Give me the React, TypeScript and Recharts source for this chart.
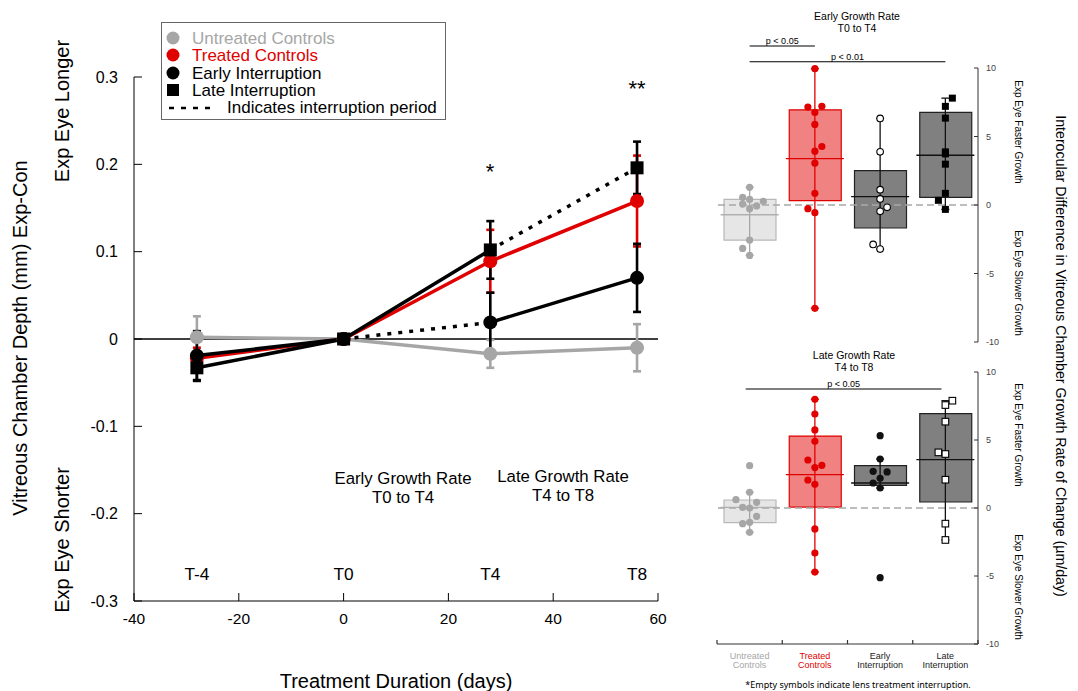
import React from "react";
import {
  ComposedChart,
  Line,
  Bar,
  Cell,
  Scatter,
  XAxis,
  YAxis,
  ReferenceLine,
  ErrorBar,
} from "recharts";

// ---- left panel: vitreous chamber depth (Exp - Con), mean ± SE ----
const days = [-28, 0, 28, 56];
const timeLabels = ["T-4", "T0", "T4", "T8"];
const untreatedMean = [0.002, 0, -0.017, -0.01];
const untreatedErr = [0.024, 0, 0.016, 0.027];
const treatedMean = [-0.022, 0, 0.089, 0.158];
const treatedErr = [0.012, 0, 0.036, 0.052];
const earlyMean = [-0.019, 0, 0.019, 0.07];
const earlyErr = [0.028, 0, 0.034, 0.039];
const lateMean = [-0.033, 0, 0.102, 0.196];
const lateErr = [0.015, 0, 0.033, 0.03];
const dayTicks = [-40, -20, 0, 20, 40, 60];
const depthTicks = [-0.3, -0.2, -0.1, 0, 0.1, 0.2, 0.3];

// ---- right panels: growth rate box plots (µm/day) ----
const groupNames = [
  ["Untreated", "Controls"],
  ["Treated", "Controls"],
  ["Early", "Interruption"],
  ["Late", "Interruption"],
];
const rateTicks = [-10, -5, 0, 5, 10];
const catTicks = [0.5, 1, 1.5, 2, 2.5, 3, 3.5, 4, 4.5];

const earlyQ1 = [-2.56, 0.32, -1.68, 0.56];
const earlyQ3 = [0.41, 6.95, 2.51, 6.76];
const earlyMedian = [-0.71, 3.39, 0.61, 3.63];
const earlyLow = [-3.68, -7.54, -3.22, -0.32];
const earlyHigh = [1.29, 9.95, 6.32, 7.8];

const lateQ1 = [-1.08, 0.07, 1.67, 0.44];
const lateQ3 = [0.59, 5.29, 3.11, 6.94];
const lateMedian = [0.05, 2.45, 1.84, 3.55];
const lateLow = [-1.79, -4.71, 1.47, -2.35];
const lateHigh = [1.15, 7.99, 3.6, 7.89];

// individual eyes: [rate, jitter in category widths]
const earlyPoints = [
  [[1.29, 0], [0.56, -0.107], [0.41, 0], [0.27, 0.21], [0.07, -0.107], [-0.07, 0.107], [-0.27, 0], [-2.56, 0], [-3.17, -0.107], [-3.68, 0]],
  [[9.95, 0], [7.15, -0.107], [7.2, 0.107], [6.76, 0], [5.88, 0], [4.27, 0.107], [3.93, 0], [3.05, 0], [0.85, 0], [-0.27, -0.107], [-0.56, 0], [-7.54, 0]],
  [[6.32, 0], [3.88, 0], [1.12, 0], [0.44, 0], [-0.17, 0.107], [-0.46, 0], [-2.88, -0.107], [-3.22, 0]],
  [[7.8, 0.107], [7.2, 0], [6.34, 0], [3.88, 0], [3.73, 0], [2.98, 0], [0.85, 0], [0.34, -0.107], [-0.32, 0]],
];
const latePoints = [
  [[3.11, 0], [1.15, 0], [0.61, -0.21], [0.42, 0.107], [0.05, -0.107], [0, 0], [-0.61, 0.107], [-1.05, 0], [-1.15, -0.107], [-1.79, 0]],
  [[7.99, 0], [6.91, 0], [5.74, 0], [4.9, 0], [3.53, -0.107], [2.97, 0], [3.14, 0.107], [2.06, -0.107], [1.74, 0], [-1.54, 0], [-3.31, 0], [-4.71, 0]],
  [[5.32, 0], [3.6, 0], [2.7, -0.107], [2.65, 0.107], [2.18, 0], [1.84, -0.107], [1.47, 0], [-5.12, 0]],
  [[7.89, 0.107], [7.57, 0], [6.35, 0], [4.09, -0.107], [3.97, 0], [2.08, 0], [-1.15, 0], [-2.35, 0]],
];
const earlyMarkers = ["dot", "dot", "ring", "square"];
const lateMarkers = ["dot", "dot", "dot", "box"];

// significance bars: [from, to, height, label]
const earlySig = [
  [1, 2, 11.61, "p < 0.05"],
  [1, 4, 10.46, "p < 0.01"],
];
const lateSig = [[0.94, 3.94, 8.75, "p < 0.05"]];

const GRAY = "#a6a6a6";
const RED = "#e00000";
const BLACK = "#000";
const groupColors = ["#a6a6a6", "#e00000", "#111", "#111"];
const medianColors = ["#b0b0b0", "#e00000", "#111", "#111"];
const boxFills = ["#e6e6e6", "#f08282", "#808080", "#808080"];
const boxStrokes = ["#b8b8b8", "#e00000", "#222", "#222"];
const labelColors = ["#a6a6a6", "#e00000", "#222", "#222"];

const FONT = "'Liberation Sans', Arial, Helvetica, sans-serif";

const timeRows = days.map((d, i) => ({
  day: d,
  untreated: untreatedMean[i],
  untreatedErr: untreatedErr[i],
  treated: treatedMean[i],
  treatedErr: treatedErr[i],
  early: earlyMean[i],
  earlyErr: earlyErr[i],
  late: lateMean[i],
  lateErr: lateErr[i],
  // early interruption between T0 and T4, late between T4 and T8
  earlyBefore: i <= 1 ? earlyMean[i] : null,
  earlyGap: i === 1 || i === 2 ? earlyMean[i] : null,
  earlyAfter: i >= 2 ? earlyMean[i] : null,
  lateBefore: i <= 2 ? lateMean[i] : null,
  lateGap: i >= 2 ? lateMean[i] : null,
}));

function Txt({ x, y, size, color = "#000", rotate = 0, font = FONT, children }: any) {
  return (
    <div
      style={{
        position: "absolute",
        left: x,
        top: y,
        transform: `translate(-50%, -50%) rotate(${rotate}deg)`,
        fontSize: size,
        color,
        fontFamily: font,
        whiteSpace: "nowrap",
        lineHeight: 1.0,
        textAlign: "center",
      }}
    >
      {children}
    </div>
  );
}

const circleDot = (fill: string, r: number) => (p: any) =>
  p.cx == null ? <g key={p.index} /> : <circle key={p.index} cx={p.cx} cy={p.cy} r={r} fill={fill} />;

const squareDot = (p: any) =>
  p.cx == null ? <g key={p.index} /> : <rect key={p.index} x={p.cx - 6.5} y={p.cy - 6.5} width={13} height={13} fill={BLACK} />;

function DepthChart() {
  const err = { direction: "y" as const, width: 4, strokeWidth: 2.6 };
  return (
    <ComposedChart
      width={700}
      height={691}
      data={timeRows}
      margin={{ top: 77, right: 42, bottom: 60, left: 94 }}
    >
      <XAxis
        type="number"
        dataKey="day"
        domain={[-40, 60]}
        ticks={dayTicks}
        interval={0}
        height={30}
        tickSize={-8}
        tickMargin={20}
        stroke="#000"
        tick={{ fill: "#000", fontSize: 15.5, fontFamily: FONT }}
      />
      <YAxis
        type="number"
        domain={[-0.3, 0.3]}
        ticks={depthTicks}
        interval={0}
        width={40}
        tickSize={-8}
        tickMargin={24}
        stroke="#000"
        tick={{ fill: "#000", fontSize: 16, fontFamily: FONT }}
      />
      <ReferenceLine y={0} stroke="#000" strokeWidth={1.3} />

      <Line dataKey="untreated" stroke={GRAY} strokeWidth={3.5} dot={false} isAnimationActive={false} />
      <Line dataKey="treated" stroke={RED} strokeWidth={3.5} dot={false} isAnimationActive={false} />
      <Line dataKey="earlyBefore" stroke={BLACK} strokeWidth={3.5} dot={false} isAnimationActive={false} />
      <Line dataKey="earlyGap" stroke={BLACK} strokeWidth={3.5} strokeDasharray="4 7" dot={false} isAnimationActive={false} />
      <Line dataKey="earlyAfter" stroke={BLACK} strokeWidth={3.5} dot={false} isAnimationActive={false} />
      <Line dataKey="lateBefore" stroke={BLACK} strokeWidth={3.5} dot={false} isAnimationActive={false} />
      <Line dataKey="lateGap" stroke={BLACK} strokeWidth={3.5} strokeDasharray="4 7" dot={false} isAnimationActive={false} />

      <Line dataKey="untreated" stroke="none" dot={circleDot(GRAY, 7)} isAnimationActive={false}>
        <ErrorBar dataKey="untreatedErr" stroke={GRAY} {...err} />
      </Line>
      <Line dataKey="treated" stroke="none" dot={circleDot(RED, 7)} isAnimationActive={false}>
        <ErrorBar dataKey="treatedErr" stroke={RED} {...err} />
      </Line>
      <Line dataKey="early" stroke="none" dot={circleDot(BLACK, 7)} isAnimationActive={false}>
        <ErrorBar dataKey="earlyErr" stroke={BLACK} {...err} />
      </Line>
      <Line dataKey="late" stroke="none" dot={squareDot} isAnimationActive={false}>
        <ErrorBar dataKey="lateErr" stroke={BLACK} {...err} />
      </Line>
    </ComposedChart>
  );
}

function CategoryTick({ x, y, payload }: any) {
  const v = payload.value;
  if (!Number.isInteger(v)) {
    return <line x1={x} x2={x} y1={y} y2={y - 4} stroke="#333" strokeWidth={1.2} />;
  }
  const [a, b] = groupNames[v - 1];
  return (
    <text x={x} y={y + 15} textAnchor="middle" fontSize={9} fontFamily={FONT} fill={labelColors[v - 1]}>
      <tspan x={x}>{a}</tspan>
      <tspan x={x} dy={9}>{b}</tspan>
    </text>
  );
}

function pointShape(kind: string, color: string) {
  return (p: any) => {
    const { cx, cy } = p;
    if (kind === "ring") return <circle cx={cx} cy={cy} r={3.3} fill="#fff" stroke="#000" strokeWidth={1.1} />;
    if (kind === "square") return <rect x={cx - 3.5} y={cy - 3.5} width={7} height={7} fill="#000" />;
    if (kind === "box") return <rect x={cx - 3.3} y={cy - 3.3} width={6.6} height={6.6} fill="#fff" stroke="#000" strokeWidth={1.1} />;
    return <circle cx={cx} cy={cy} r={3.6} fill={color} />;
  };
}

function GrowthPanel({ q1, q3, median, low, high, points, markers, sig, height, margin, showAxis }: any) {
  const rows = groupNames.map((g, i) => ({ pos: i + 1, group: g.join(" "), box: [q1[i], q3[i]] }));
  return (
    <ComposedChart width={311} height={height} data={rows} margin={margin} barCategoryGap={0}>
      <XAxis
        type="number"
        dataKey="pos"
        domain={[0.5, 4.5]}
        ticks={catTicks}
        interval={0}
        hide={!showAxis}
        height={30}
        tickLine={false}
        tickSize={0}
        tickMargin={0}
        stroke="#333"
        tick={<CategoryTick />}
      />
      <XAxis xAxisId="band" type="category" dataKey="group" hide />
      <YAxis
        orientation="right"
        type="number"
        domain={[-10, 10]}
        ticks={rateTicks}
        interval={0}
        width={30}
        tickSize={-4}
        tickMargin={12}
        stroke="#333"
        tick={{ fill: "#444", fontSize: 9, fontFamily: FONT }}
      />
      <ReferenceLine y={0} stroke="#a8a8a8" strokeWidth={1.6} strokeDasharray="7 4" />

      {groupNames.map((_, i) => (
        <Scatter
          key={"w" + i}
          data={[{ pos: i + 1, v: median[i], err: [median[i] - low[i], high[i] - median[i]] }]}
          dataKey="v"
          shape={() => <g />}
          isAnimationActive={false}
        >
          <ErrorBar dataKey="err" direction="y" width={4} stroke={groupColors[i]} strokeWidth={1.3} />
        </Scatter>
      ))}

      <Bar xAxisId="band" dataKey="box" barSize={52} isAnimationActive={false}>
        {rows.map((_, i) => (
          <Cell key={i} fill={boxFills[i]} stroke={boxStrokes[i]} strokeWidth={1.2} />
        ))}
      </Bar>

      {groupNames.map((_, i) => (
        <Scatter
          key={"m" + i}
          data={[{ pos: i + 1, v: median[i] }]}
          dataKey="v"
          shape={(p: any) => (
            <line x1={p.cx - 29} x2={p.cx + 29} y1={p.cy} y2={p.cy} stroke={medianColors[i]} strokeWidth={1.3} />
          )}
          isAnimationActive={false}
        />
      ))}

      {points.map((grp: number[][], i: number) => (
        <Scatter
          key={"p" + i}
          data={grp.map(([v, j]) => ({ pos: i + 1 + j, v }))}
          dataKey="v"
          shape={pointShape(markers[i], groupColors[i])}
          isAnimationActive={false}
        />
      ))}

      {sig.map(([a, b, h, label]: any, k: number) => (
        <ReferenceLine
          key={"s" + k}
          segment={[{ x: a, y: h }, { x: b, y: h }]}
          ifOverflow="visible"
          stroke="#000"
          strokeWidth={1.1}
          label={{ value: label, position: "top", offset: 2, fontSize: 9, fill: "#000", fontFamily: FONT }}
        />
      ))}
    </ComposedChart>
  );
}

function Legend() {
  const rows = [
    { label: "Untreated Controls", color: GRAY, shape: "circle" },
    { label: "Treated Controls", color: RED, shape: "circle" },
    { label: "Early Interruption", color: "#000", shape: "circle" },
    { label: "Late Interruption", color: "#000", shape: "square" },
  ];
  return (
    <div
      style={{
        position: "absolute",
        left: 161,
        top: 22,
        width: 285,
        height: 98,
        border: "1px solid #666",
        background: "#fff",
        fontFamily: FONT,
        fontSize: 17,
        lineHeight: "17.3px",
        paddingTop: 7,
        boxSizing: "border-box",
      }}
    >
      {rows.map((r) => (
        <div key={r.label} style={{ display: "flex", alignItems: "center", height: 17.3, color: r.color }}>
          <svg width={30} height={17} style={{ flex: "none" }}>
            {r.shape === "circle" ? (
              <circle cx={11} cy={8} r={6.5} fill={r.color} />
            ) : (
              <rect x={5} y={2} width={12} height={12} fill="#000" />
            )}
          </svg>
          <span>{r.label}</span>
        </div>
      ))}
      <div style={{ display: "flex", alignItems: "center", height: 17.3 }}>
        <svg width={65} height={17} style={{ flex: "none" }}>
          <line x1={7} x2={50} y1={9} y2={9} stroke="#000" strokeWidth={2.5} strokeDasharray="5 7" />
        </svg>
        <span>Indicates interruption period</span>
      </div>
    </div>
  );
}

export default function App() {
  return (
    <div style={{ position: "absolute", left: 0, top: 0, width: 1078, height: 691, background: "#fff", fontFamily: FONT }}>
      <div style={{ position: "absolute", left: 0, top: 0 }}>
        <DepthChart />
      </div>
      <Legend />

      <Txt x={20} y={338} size={20} rotate={-90}>Vitreous Chamber Depth (mm) Exp-Con</Txt>
      <Txt x={62} y={111} size={20} rotate={-90}>Exp Eye Longer</Txt>
      <Txt x={62} y={540} size={20} rotate={-90}>Exp Eye Shorter</Txt>
      <Txt x={396} y={681} size={20}>Treatment Duration (days)</Txt>

      {timeLabels.map((t, i) => (
        <Txt key={t} x={343.6 + days[i] * 5.24} y={575} size={17.3}>{t}</Txt>
      ))}
      <Txt x={490} y={172} size={22}>*</Txt>
      <Txt x={637} y={89} size={22}>**</Txt>
      <Txt x={403} y={479} size={16.8}>Early Growth Rate</Txt>
      <Txt x={403} y={498} size={16.8}>T0 to T4</Txt>
      <Txt x={563} y={477} size={16.8}>Late Growth Rate</Txt>
      <Txt x={563} y={496} size={16.8}>T4 to T8</Txt>

      <div style={{ position: "absolute", left: 697, top: 0 }}>
        <GrowthPanel
          q1={earlyQ1}
          q3={earlyQ3}
          median={earlyMedian}
          low={earlyLow}
          high={earlyHigh}
          points={earlyPoints}
          markers={earlyMarkers}
          sig={earlySig}
          height={350}
          margin={{ top: 68, right: 0, bottom: 8, left: 20 }}
          showAxis={false}
        />
      </div>
      <div style={{ position: "absolute", left: 697, top: 340 }}>
        <GrowthPanel
          q1={lateQ1}
          q3={lateQ3}
          median={lateMedian}
          low={lateLow}
          high={lateHigh}
          points={latePoints}
          markers={lateMarkers}
          sig={lateSig}
          height={351}
          margin={{ top: 32, right: 0, bottom: 17, left: 20 }}
          showAxis={true}
        />
      </div>

      <Txt x={857} y={16} size={10.5}>Early Growth Rate</Txt>
      <Txt x={857} y={27.5} size={10.5}>T0 to T4</Txt>
      <Txt x={854} y={355} size={10.5}>Late Growth Rate</Txt>
      <Txt x={854} y={366.5} size={10.5}>T4 to T8</Txt>
      <Txt x={1018} y={132} size={10} rotate={90}>Exp Eye Faster Growth</Txt>
      <Txt x={1018} y={283} size={10} rotate={90}>Exp Eye Slower Growth</Txt>
      <Txt x={1018} y={435} size={10} rotate={90}>Exp Eye Faster Growth</Txt>
      <Txt x={1018} y={587} size={10} rotate={90}>Exp Eye Slower Growth</Txt>
      <Txt x={1061} y={356} size={14.2} rotate={90}>
        Interocular Difference in Vitreous Chamber Growth Rate of Change (µm/day)
      </Txt>
      <Txt x={858} y={684} size={9} font="'Noto Sans', 'DejaVu Sans', sans-serif">
        *Empty symbols indicate lens treatment interruption.
      </Txt>
    </div>
  );
}
